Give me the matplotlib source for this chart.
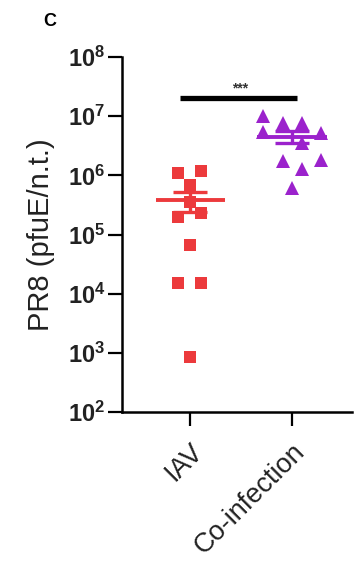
import numpy as np
import matplotlib
matplotlib.use("Agg")
import matplotlib.pyplot as plt

plt.rcParams['font.family'] = ['Liberation Sans', 'DejaVu Sans']
plt.rcParams['mathtext.fontset'] = 'custom'
plt.rcParams['mathtext.rm'] = 'Liberation Sans:bold'
plt.rcParams['mathtext.bf'] = 'Liberation Sans:bold'

# data (pfuE / n.t.)
groups = ["IAV", "Co-infection"]
iav = [1.1e6, 1.2e6, 7.0e5, 3.5e5, 2.0e5, 2.3e5, 6.6e4, 1.5e4, 1.5e4, 8.5e2]
coinf = [1.0e7, 7.7e6, 7.7e6, 5.4e6, 5.2e6, 3.5e6, 1.75e6, 1.8e6, 1.3e6, 6.1e5]
sig_label = "***"
sig_level = 2.0e7
yticks = [1e2, 1e3, 1e4, 1e5, 1e6, 1e7, 1e8]

# horizontal scatter of the points within each column (layout only)
iav_dx = [-0.12, 0.11, 0.0, 0.0, -0.12, 0.11, 0.0, -0.12, 0.11, 0.0]
coinf_dx = [-0.28, -0.09, 0.1, -0.28, 0.29, 0.1, -0.09, 0.29, 0.1, 0.0]

red = '#EC3A3C'
purple = '#9B22CC'

fig = plt.figure(figsize=(3.54, 5.69), dpi=100)
ax = fig.add_axes([0.3446, 0.2759, 0.6497, 0.6239])

series = [(iav, iav_dx, 's', red, 9), (coinf, coinf_dx, '^', purple, 10)]
for i, (vals, dx, mk, col, ms) in enumerate(series):
    vals = np.array(vals)
    ax.plot(i + np.array(dx), vals, linestyle='none', marker=mk, color=col,
            markersize=ms, markeredgewidth=0, zorder=3)
    m = vals.mean()
    sem = vals.std(ddof=1) / np.sqrt(len(vals))
    ax.hlines(m, i - 0.34, i + 0.34, color=col, lw=2.8, zorder=4)
    ax.hlines([m - sem, m + sem], i - 0.17, i + 0.17, color=col, lw=2.4, zorder=4)
    ax.vlines(i, m - sem, m + sem, color=col, lw=2.4, zorder=4)

# significance bar
ax.hlines(sig_level, -0.1, 1.05, color='black', lw=3.8)
ax.text(0.49, sig_level * 1.12, sig_label, ha='center', va='bottom',
        fontsize=10, fontweight='bold', color='#333333')

ax.set_yscale('log')
ax.set_ylim(1e2, 1e8)
ax.set_xlim(-0.67, 1.59)
ax.set_yticks(yticks)
ax.set_yticklabels([r'$\mathrm{10^{%d}}$' % int(np.log10(t)) for t in yticks])
ax.minorticks_off()
ax.set_xticks(range(len(groups)))
ax.set_xticklabels(groups, rotation=45, ha='right', rotation_mode='anchor',
                   fontsize=19.5, color='#222222')
ax.tick_params(axis='y', labelsize=17, length=10, width=1.6, pad=2,
               labelcolor='#222222')
ax.tick_params(axis='x', length=10, width=1.6, pad=9)

for s in ['top', 'right']:
    ax.spines[s].set_visible(False)
for s in ['left', 'bottom']:
    ax.spines[s].set_linewidth(1.8)

ax.set_ylabel("PR8 (pfuE/n.t.)", fontsize=21, labelpad=9, color='#222222')
fig.text(0.141, 0.963, "C", fontsize=13, fontweight='bold', ha='center', va='center')

fig.savefig("out.png", dpi=100)
